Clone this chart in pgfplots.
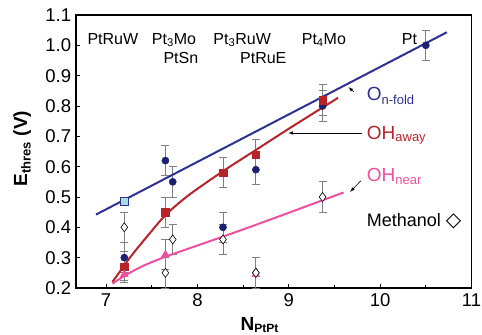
\documentclass[border=0pt]{standalone}
\usepackage{fontspec}
\setmainfont{Liberation Sans}
\newfontfamily\dejavu{DejaVu Sans}
\usepackage{pgfplots}
\pgfplotsset{compat=1.18}
\definecolor{cblue}{HTML}{2E3192}
\definecolor{cnavy}{HTML}{1B2170}
\definecolor{cred}{HTML}{B8232A}
\definecolor{cpink}{HTML}{EE4F9E}
\definecolor{clight}{HTML}{A8DCE0}
\begin{document}
\begin{tikzpicture}
\begin{axis}[
  scale only axis, width=395.8pt, height=273pt,
  xmin=6.668, xmax=11, ymin=0.2, ymax=1.1,
  axis line style={line width=1.8pt},
  xtick={7,8,9,10,11}, minor xtick={7.5,8.5,9.5,10.5},
  ytick={0.2,0.3,0.4,0.5,0.6,0.7,0.8,0.9,1.0,1.1},
  tick pos=left, tick align=inside,
  major tick length=4pt, minor tick length=3pt,
  tick style={black, line width=0.8pt},
  /pgf/number format/assume math mode=true,
  yticklabel style={/pgf/number format/fixed, /pgf/number format/precision=1, /pgf/number format/zerofill, xshift=-1pt},
  ticklabel style={font=\fontsize{18.5}{20}\selectfont},
  xticklabel style={yshift=-2pt},
  clip=false,
]
% error bars + markers
\addplot[only marks, mark=diamond*, mark size=4.5pt, mark options={fill=white, draw=black, line width=0.6pt},
  error bars/.cd, y dir=both, y explicit, error bar style={gray, line width=0.8pt}, error mark options={rotate=90, mark size=4pt, gray, line width=0.8pt}]
  coordinates {(7.2,0.40) +- (0,0.05) (7.65,0.25) +- (0,0.05) (7.73,0.36) +- (0,0.05) (8.28,0.36) +- (0,0.05) (8.64,0.25) +- (0,0.05) (9.37,0.50) +- (0,0.05)};
\addplot[only marks, mark=*, mark size=3.6pt, mark options={fill=cnavy, draw=cnavy},
  error bars/.cd, y dir=both, y explicit, error bar style={gray, line width=0.8pt}, error mark options={rotate=90, mark size=4pt, gray, line width=0.8pt}]
  coordinates {(7.2,0.30) +- (0,0.05) (7.65,0.62) +- (0,0.05) (7.73,0.55) +- (0,0.05) (8.28,0.40) +- (0,0.05) (8.64,0.59) +- (0,0.05) (9.37,0.80) +- (0,0.05) (10.50,1.00) +- (0,0.05)};
\addplot[only marks, mark=square*, mark size=3.8pt, mark options={fill=cred, draw=cred},
  error bars/.cd, y dir=both, y explicit, error bar style={gray, line width=0.8pt}, error mark options={rotate=90, mark size=4pt, gray, line width=0.8pt}]
  coordinates {(7.2,0.27) +- (0,0.05) (7.65,0.45) +- (0,0.05) (8.28,0.58) +- (0,0.05) (8.64,0.64) +- (0,0.05) (9.37,0.82) +- (0,0.05)};
\addplot[only marks, mark=triangle*, mark size=4.5pt, mark options={fill=cpink, draw=cpink},
  error bars/.cd, y dir=both, y explicit, error bar style={gray, line width=0.8pt}, error mark options={rotate=90, mark size=4pt, gray, line width=0.8pt}]
  coordinates {(7.2,0.245) +- (0,0.02) (7.65,0.31) +- (0,0.05)};
\addplot[only marks, mark=triangle*, mark size=4.5pt, mark options={fill=cpink, draw=cpink}]
  coordinates {(8.64,0.245)};
\addplot[only marks, mark=diamond*, mark size=4.5pt, mark options={fill=white, draw=black, line width=0.6pt}]
  coordinates {(8.64,0.25)};
\addplot[only marks, mark=square*, mark size=3.8pt, mark options={fill=clight, draw=cblue, line width=0.7pt}]
  coordinates {(7.2,0.485)};
% lines
\addplot[cblue, line width=2pt] coordinates {(6.89,0.442) (10.73,1.043)};
\addplot[cred, line width=2pt, smooth] coordinates {(7.07,0.22) (7.13,0.245) (7.2,0.275) (7.3,0.315) (7.45,0.37) (7.65,0.44) (7.9,0.505) (8.28,0.585) (8.64,0.655) (9.0,0.725) (9.54,0.827)};
\addplot[cpink, line width=2pt, smooth] coordinates {(7.07,0.214) (7.2,0.24) (7.4,0.272) (7.65,0.303) (8.0,0.34) (8.5,0.393) (9.0,0.448) (9.6,0.515)};
% annotations
\node[anchor=base west, inner sep=0pt, text=cblue, font=\fontsize{19}{21}\selectfont] at (axis cs:9.853,0.8165) {O\textsubscript{\fontsize{13}{14}\selectfont n-fold}};
\draw[-latex, black, line width=0.6pt] (axis cs:9.71,0.847) -- (axis cs:9.655,0.862);
\node[anchor=base west, inner sep=0pt, text=cred, font=\fontsize{19}{21}\selectfont] at (axis cs:9.853,0.690) {OH\textsubscript{\fontsize{13}{14}\selectfont away}};
\draw[-latex, black, line width=0.6pt] (axis cs:9.798,0.711) -- (axis cs:8.995,0.711);
\node[anchor=base west, inner sep=0pt, text=cpink, font=\fontsize{19}{21}\selectfont] at (axis cs:9.853,0.5504) {OH\textsubscript{\fontsize{13}{14}\selectfont near}};
\draw[-latex, black, line width=0.6pt] (axis cs:9.787,0.553) -- (axis cs:9.672,0.517);
\node[anchor=base west, inner sep=0pt, font=\fontsize{18}{20}\selectfont] at (axis cs:9.853,0.402) {Methanol {\dejavu\fontsize{20}{20}\selectfont ◇}};
% top labels
\begin{scope}[every node/.style={anchor=base west, inner sep=0pt, font=\fontsize{16}{18}\selectfont}]
\node at (axis cs:6.795,1.004) {PtRuW};
\node at (axis cs:7.500,1.004) {Pt\textsubscript{3}Mo};
\node at (axis cs:7.627,0.941) {PtSn};
\node at (axis cs:8.174,1.004) {Pt\textsubscript{3}RuW};
\node at (axis cs:8.466,0.941) {PtRuE};
\node at (axis cs:9.141,1.004) {Pt\textsubscript{4}Mo};
\node at (axis cs:10.236,1.004) {Pt};
\end{scope}
% axis labels
\node[anchor=base, inner sep=0pt, font=\bfseries\fontsize{19}{21}\selectfont] at (axis description cs:0.465,-0.155) {N\textsubscript{\fontsize{12}{13}\selectfont PtPt}};
\node[rotate=90, font=\bfseries\fontsize{19}{21}\selectfont] at (axis description cs:-0.135,0.51) {E\textsubscript{\fontsize{13}{14}\selectfont thres} (V)};
\end{axis}
\pgfresetboundingbox
\path (current axis.south west) ++(-75.7pt,-47pt);
\path (current axis.north east) ++(10.5pt,15pt);
\end{tikzpicture}
\end{document}
